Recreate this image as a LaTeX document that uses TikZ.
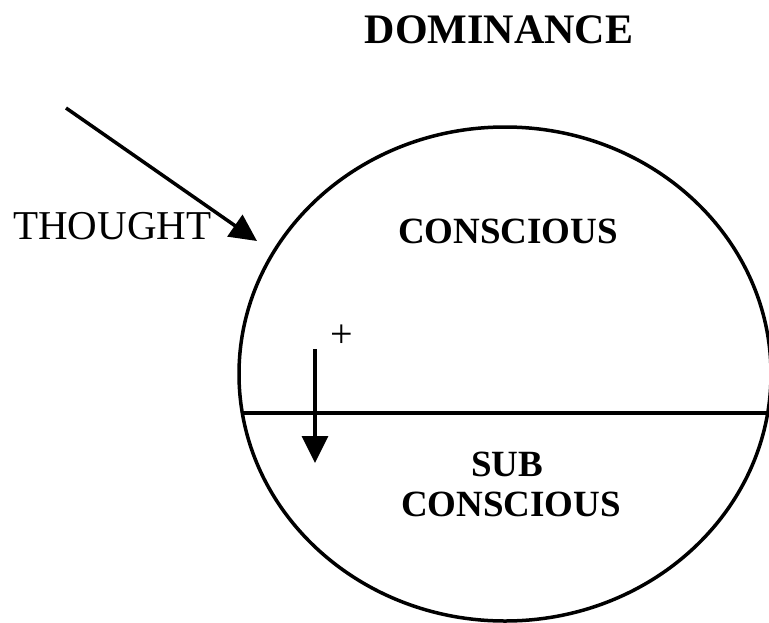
\documentclass[tikz,border=0pt]{standalone}
\usepackage{fontspec}
\setmainfont{Liberation Serif}
\usetikzlibrary{arrows.meta,positioning}

\begin{document}
\begin{tikzpicture}[
  x=1pt,y=-1pt,
  title/.style={inner sep=0pt,anchor=base,font=\bfseries\fontsize{42}{48}\selectfont},
  zone/.style={inner sep=0pt,anchor=base,font=\bfseries\fontsize{37}{40}\selectfont},
  plain/.style={inner sep=0pt,font=\fontsize{41}{48}\selectfont},
  arrow/.style={-{Triangle[length=27pt,width=26pt]},line width=3.5pt}
]
\useasboundingbox (0,0) rectangle (769,622);
\begin{scope}
\clip (0,0) rectangle (769,622);
\draw[line width=3.5pt] (505,374) ellipse [x radius=266, y radius=247];
\coordinate (lineL) at (242,413);
\coordinate (lineR) at (768,413);
\draw[line width=3.5pt] (lineL) -- (lineR);
\end{scope}
\node[title] (dominance) at (499,43) {DOMINANCE};
\node[zone] (conscious) at (508,243) {CONSCIOUS};
\node[zone] (sub) at (507,476) {SUB};
\node[zone] (subconscious) at (511,516) {CONSCIOUS};
\node[plain,anchor=base west] (thought) at (13,239) {THOUGHT};
\node[plain,font=\fontsize{40}{44}\selectfont] (plus) at (342,336) {+};
\coordinate (tstart) at (66,108);
\coordinate (ttip) at (257,241);
\coordinate (dtop) at (315,349);
\coordinate (dtip) at (315,463);
\draw[arrow] (tstart) -- (ttip);
\draw[arrow] (dtop) -- (dtip);
\end{tikzpicture}
\end{document}
